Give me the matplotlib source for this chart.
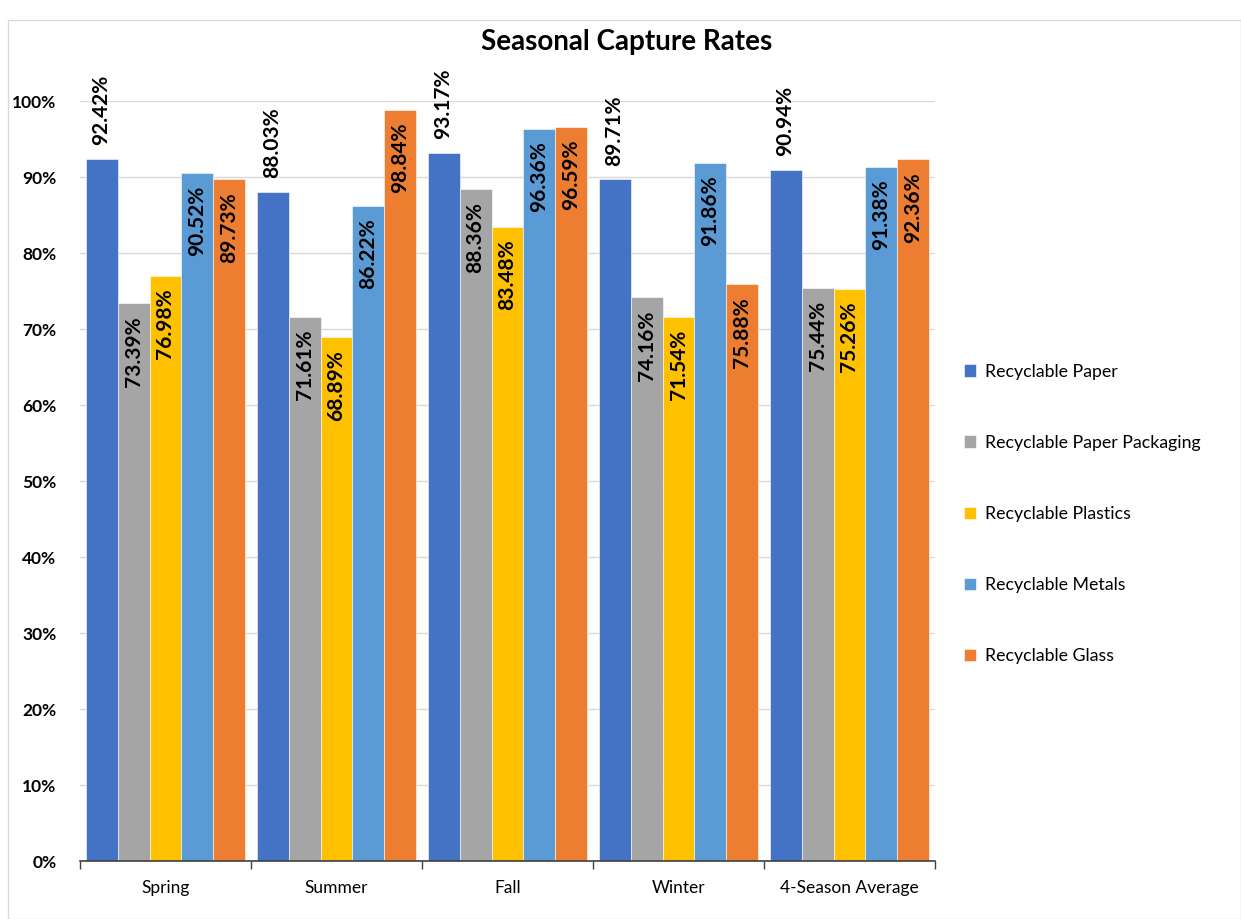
import numpy as np
import matplotlib.pyplot as plt
from matplotlib.patches import Rectangle
from matplotlib.ticker import PercentFormatter

plt.rcParams['font.family'] = ['Lato', 'DejaVu Sans']

seasons = ["Spring", "Summer", "Fall", "Winter", "4-Season Average"]
series = ["Recyclable Paper", "Recyclable Paper Packaging", "Recyclable Plastics",
          "Recyclable Metals", "Recyclable Glass"]
paper = [92.42, 88.03, 93.17, 89.71, 90.94]
packaging = [73.39, 71.61, 88.36, 74.16, 75.44]
plastics = [76.98, 68.89, 83.48, 71.54, 75.26]
metals = [90.52, 86.22, 96.36, 91.86, 91.38]
glass = [89.73, 98.84, 96.59, 75.88, 92.36]
colors = ["#4472C4", "#A5A5A5", "#FFC000", "#5B9BD5", "#ED7D31"]

values = [paper, packaging, plastics, metals, glass]

fig = plt.figure(figsize=(12.41, 9.19), dpi=100)
# outer chart border
fig.add_artist(Rectangle((8 / 1241, 0), 1 - 8 / 1241, 1 - 20 / 919, transform=fig.transFigure,
                         fill=False, edgecolor="#D9D9D9", lw=1))
ax = fig.add_axes([80 / 1241, 58 / 919, 855 / 1241, 760 / 919])

x = np.arange(len(seasons))
w = 0.187
for i, (name, vals, c) in enumerate(zip(series, values, colors)):
    pos = x + (i - 2) * w
    bars = ax.bar(pos, vals, width=w, color=c, label=name, zorder=2,
                  edgecolor="white", linewidth=0.4)
    for b, v in zip(bars, vals):
        cx = b.get_x() + b.get_width() / 2
        if i == 0:
            ax.text(cx, v + 1.8, f"{v:.2f}%", rotation=90, ha="center", va="bottom",
                    fontsize=15, fontweight="bold", color="black", clip_on=False)
        else:
            ax.text(cx, v - 1.7, f"{v:.2f}%", rotation=90, ha="center", va="top",
                    fontsize=15, fontweight="bold", color="black")

ax.set_xlim(-0.5, len(seasons) - 0.5)
ax.set_ylim(0, 100)
ax.yaxis.set_major_locator(plt.MultipleLocator(10))
ax.yaxis.set_major_formatter(PercentFormatter(decimals=0))
ax.grid(axis="y", color="#D9D9D9", lw=1, zorder=0)
for s in ["top", "right", "left"]:
    ax.spines[s].set_visible(False)
ax.spines["bottom"].set_color("#404040")
ax.spines["bottom"].set_linewidth(1.2)
ax.tick_params(axis="y", length=0, labelsize=12.5, pad=17)
for lab in ax.get_yticklabels():
    lab.set_fontweight("bold")

ax.set_xticks(x)
ax.set_xticklabels(seasons, fontsize=12.5)
ax.set_xticks(np.arange(-0.5, len(seasons)), minor=True)
ax.tick_params(axis="x", which="major", length=0, pad=14)
ax.tick_params(axis="x", which="minor", length=6, color="#404040", width=1)

fig.text(627 / 1241, 1 - 42 / 919, "Seasonal Capture Rates", ha="center", va="center",
         fontsize=20, fontweight="bold")

leg = ax.legend(loc="center left", bbox_to_anchor=(948 / 1241, 1 - 514 / 919),
                bbox_transform=fig.transFigure, frameon=False,
                fontsize=12.8, handlelength=0.7, handleheight=0.7, labelspacing=3.1,
                handletextpad=0.5)

fig.savefig("out.png", dpi=100)
